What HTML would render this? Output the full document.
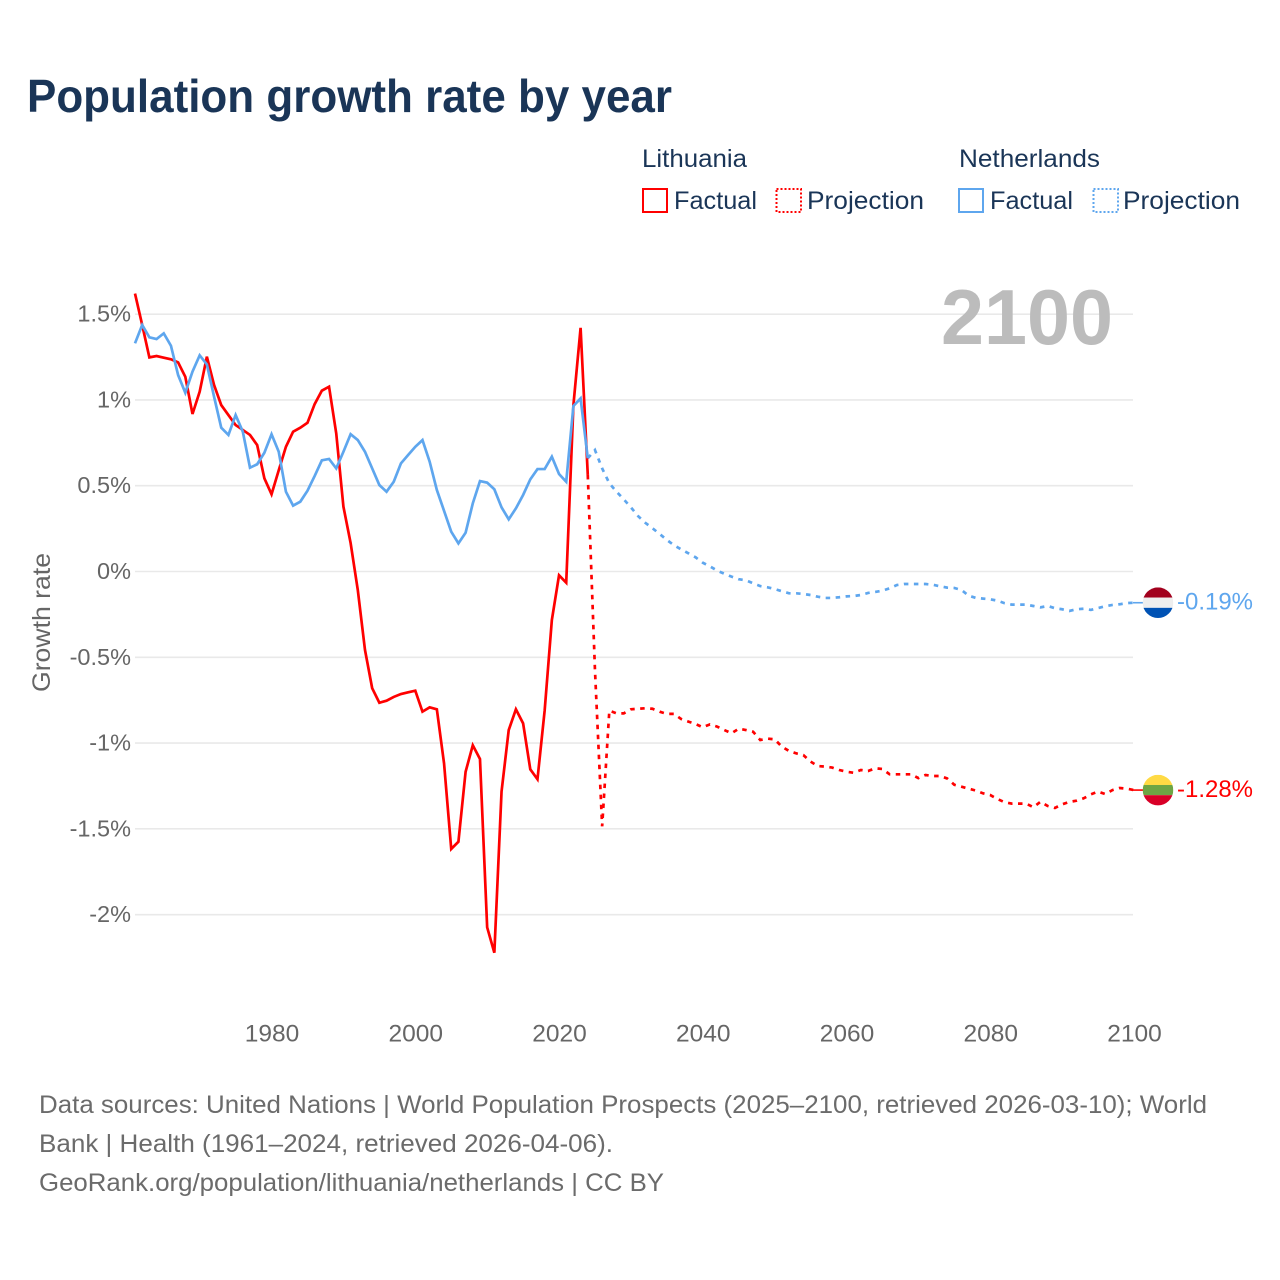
<!DOCTYPE html>
<html lang="en">
<head>
<meta charset="utf-8">
<title>Population growth rate by year</title>
<style>
html,body{margin:0;padding:0;background:#fff;width:1280px;height:1280px;overflow:hidden}
svg{display:block}
text{font-family:"Liberation Sans",sans-serif}
</style>
</head>
<body>
<svg id="chart" xmlns="http://www.w3.org/2000/svg" width="1280" height="1280" viewBox="0 0 1280 1280">
  <text x="27" y="112" font-size="46.5" font-weight="700" fill="#1a3557" textLength="645" lengthAdjust="spacingAndGlyphs">Population growth rate by year</text>

  <g font-size="25" fill="#1a3557">
    <text x="642" y="167" textLength="105" lengthAdjust="spacingAndGlyphs">Lithuania</text>
    <text x="959" y="167" textLength="141" lengthAdjust="spacingAndGlyphs">Netherlands</text>
    <rect x="643" y="189" width="24" height="23" fill="none" stroke="#ff0000" stroke-width="2"/>
    <text x="674" y="209" textLength="83" lengthAdjust="spacingAndGlyphs">Factual</text>
    <rect x="776.5" y="189" width="24.5" height="23" fill="none" stroke="#ff0000" stroke-width="2" stroke-dasharray="2 2"/>
    <text x="807" y="209" textLength="117" lengthAdjust="spacingAndGlyphs">Projection</text>
    <rect x="959" y="189" width="24" height="23" fill="none" stroke="#5ea6ee" stroke-width="2"/>
    <text x="990" y="209" textLength="83" lengthAdjust="spacingAndGlyphs">Factual</text>
    <rect x="1093.5" y="189" width="24.5" height="23" fill="none" stroke="#5ea6ee" stroke-width="2" stroke-dasharray="2 2"/>
    <text x="1123" y="209" textLength="117" lengthAdjust="spacingAndGlyphs">Projection</text>
  </g>

  <g id="grid"></g>
  <g id="yticks" font-size="23.5" fill="#666666" text-anchor="end"></g>
  <g id="xticks" font-size="24.5" fill="#666666" text-anchor="middle"></g>

  <text transform="translate(50,692) rotate(-90)" x="0" y="0" font-size="25" fill="#666666" textLength="139" lengthAdjust="spacingAndGlyphs">Growth rate</text>

  <text id="yearLabel" x="941" y="344" font-size="78" font-weight="700" fill="#bcbcbc" textLength="172" lengthAdjust="spacingAndGlyphs">2100</text>

  <g id="series"></g>
  <g id="endcaps"></g>

  <g font-size="25" fill="#6b6b6b">
    <text x="39" y="1113" textLength="1168" lengthAdjust="spacingAndGlyphs">Data sources: United Nations | World Population Prospects (2025–2100, retrieved 2026-03-10); World</text>
    <text x="39" y="1152" textLength="574" lengthAdjust="spacingAndGlyphs">Bank | Health (1961–2024, retrieved 2026-04-06).</text>
    <text x="39" y="1191" textLength="625" lengthAdjust="spacingAndGlyphs">GeoRank.org/population/lithuania/netherlands | CC BY</text>
  </g>
</svg>

<script>
const factualStartYear = 1961;
const projectionStartYear = 2024;

const lithuaniaFactual = [
  1.62,1.437,1.248,1.256,1.246,1.237,1.219,1.135,0.918,1.048,
  1.252,1.087,0.97,0.912,0.854,0.825,0.796,0.737,0.543,0.45,
  0.59,0.727,0.815,0.838,0.867,0.976,1.054,1.077,0.805,0.378,
  0.166,-0.108,-0.457,-0.68,-0.765,-0.753,-0.731,-0.714,-0.704,-0.695,
  -0.817,-0.792,-0.803,-1.118,-1.617,-1.575,-1.167,-1.013,-1.093,-2.074,
  -2.222,-1.283,-0.924,-0.803,-0.885,-1.153,-1.211,-0.81,-0.283,-0.022,
  -0.065,0.97,1.42,0.563
];

const netherlandsFactual = [
  1.33,1.437,1.365,1.355,1.388,1.316,1.145,1.042,1.165,1.26,
  1.207,1.019,0.838,0.796,0.912,0.815,0.605,0.625,0.692,0.8,
  0.698,0.465,0.384,0.407,0.471,0.557,0.648,0.656,0.601,0.698,
  0.8,0.766,0.698,0.601,0.504,0.465,0.523,0.63,0.679,0.727,
  0.766,0.64,0.475,0.354,0.232,0.164,0.226,0.397,0.527,0.518,
  0.479,0.374,0.304,0.368,0.446,0.537,0.597,0.597,0.669,0.568,
  0.523,0.965,1.009,0.66
];

const lithuaniaProjection = [
  0.563,-0.575,-1.485,-0.811,-0.827,-0.827,-0.803,-0.8,-0.797,-0.8,
  -0.817,-0.83,-0.83,-0.86,-0.875,-0.889,-0.908,-0.891,-0.904,-0.924,
  -0.943,-0.916,-0.924,-0.934,-0.982,-0.974,-0.978,-1.021,-1.046,-1.06,
  -1.07,-1.108,-1.134,-1.137,-1.143,-1.157,-1.167,-1.173,-1.157,-1.163,
  -1.147,-1.151,-1.182,-1.182,-1.182,-1.182,-1.204,-1.186,-1.192,-1.192,
  -1.206,-1.243,-1.254,-1.266,-1.277,-1.293,-1.303,-1.326,-1.345,-1.353,
  -1.353,-1.353,-1.374,-1.342,-1.367,-1.378,-1.357,-1.343,-1.336,-1.322,
  -1.299,-1.283,-1.297,-1.274,-1.262,-1.266,-1.274
];

const netherlandsProjection = [
  0.66,0.708,0.601,0.514,0.465,0.421,0.374,0.323,0.284,0.252,
  0.219,0.184,0.153,0.129,0.106,0.083,0.051,0.03,0.005,-0.013,
  -0.03,-0.045,-0.051,-0.069,-0.085,-0.092,-0.102,-0.115,-0.127,-0.127,
  -0.131,-0.137,-0.147,-0.154,-0.154,-0.15,-0.145,-0.143,-0.137,-0.125,
  -0.119,-0.112,-0.098,-0.079,-0.073,-0.073,-0.073,-0.073,-0.077,-0.086,
  -0.094,-0.096,-0.108,-0.141,-0.154,-0.158,-0.162,-0.17,-0.185,-0.193,
  -0.193,-0.193,-0.201,-0.209,-0.201,-0.214,-0.22,-0.23,-0.22,-0.217,
  -0.224,-0.213,-0.203,-0.195,-0.191,-0.184,-0.182
];

const yTickValues = [1.5,1,0.5,0,-0.5,-1,-1.5,-2];
const yTickLabels = ["1.5%","1%","0.5%","0%","-0.5%","-1%","-1.5%","-2%"];
const xTickYears = [1980,2000,2020,2040,2060,2080,2100];
const xTickLabels = ["1980","2000","2020","2040","2060","2080","2100"];
const endValueLabels = ["-1.28%","-0.19%"];

const NS = "http://www.w3.org/2000/svg";
function xScale(year){ return 135 + (year - 1961) * 7.187; }
function yScale(v){ return 571.5 - v * 171.57; }
function pathFrom(startYear, values){
  return values.map(function(v,i){
    return (i ? "L" : "M") + xScale(startYear + i).toFixed(2) + " " + yScale(v).toFixed(2);
  }).join("");
}
function make(tag, attrs, parent){
  const el = document.createElementNS(NS, tag);
  for (const k in attrs) el.setAttribute(k, attrs[k]);
  parent.appendChild(el);
  return el;
}

const gridG = document.getElementById("grid");
const yG = document.getElementById("yticks");
yTickValues.forEach(function(v,i){
  const line = make("line", {x1:135, x2:1133, y1:yScale(v), y2:yScale(v), stroke:"#e9e9e9", "stroke-width":1.6}, gridG);
  
  
  const t = make("text", {x:131, y:yScale(v)+7.5}, yG);
  t.textContent = yTickLabels[i];
  
  
});

const xG = document.getElementById("xticks");
xTickYears.forEach(function(yr,i){
  const t = make("text", {x:xScale(yr)+0.5, y:1041.5}, xG);
  t.textContent = xTickLabels[i];
  
  
});

const seriesG = document.getElementById("series");
const RED = "#ff0000", BLUE = "#5ea6ee";

const p1 = make("path", {d:pathFrom(projectionStartYear, netherlandsProjection), fill:"none", stroke:BLUE, "stroke-width":2.7, "stroke-dasharray":"4.5 5.5"}, seriesG);



const p2 = make("path", {d:pathFrom(projectionStartYear, lithuaniaProjection), fill:"none", stroke:RED, "stroke-width":2.7, "stroke-dasharray":"4.5 5.5"}, seriesG);



const f1 = make("path", {d:pathFrom(factualStartYear, lithuaniaFactual), fill:"none", stroke:RED, "stroke-width":2.7, "stroke-linejoin":"miter"}, seriesG);



const f2 = make("path", {d:pathFrom(factualStartYear, netherlandsFactual), fill:"none", stroke:BLUE, "stroke-width":2.7, "stroke-linejoin":"miter"}, seriesG);



const capG = document.getElementById("endcaps");
function endCap(values, bands, color, label, clipId, seriesName){
  const cy = yScale(values[values.length-1]);
  const cx = 1158, r = 15.3;
  const conn = make("line", {x1:1133, x2:1143, y1:cy, y2:cy, stroke:color, "stroke-width":1.6}, capG);
  
  
  const clip = make("clipPath", {id:clipId}, capG);
  make("circle", {cx:cx, cy:cy, r:r}, clip);
  const flag = make("g", {"clip-path":"url(#"+clipId+")"}, capG);
  
  
  make("rect", {x:cx-r, y:cy-r, width:2*r, height:10.2, fill:bands[0]}, flag);
  make("rect", {x:cx-r, y:cy-r+10.2, width:2*r, height:10.2, fill:bands[1]}, flag);
  make("rect", {x:cx-r, y:cy-r+20.4, width:2*r, height:10.3, fill:bands[2]}, flag);
  const t = make("text", {x:1177, y:cy+7, "font-size":24.5, fill:color, textLength:76, lengthAdjust:"spacingAndGlyphs"}, capG);
  t.textContent = label;
  
  
}
endCap(lithuaniaProjection, ["#ffda44","#6da544","#d80027"], RED, endValueLabels[0], "clipLt", "lithuania");
endCap(netherlandsProjection, ["#a2001d","#eeeeee","#0052b4"], BLUE, endValueLabels[1], "clipNl", "netherlands");
</script>
</body>
</html>
